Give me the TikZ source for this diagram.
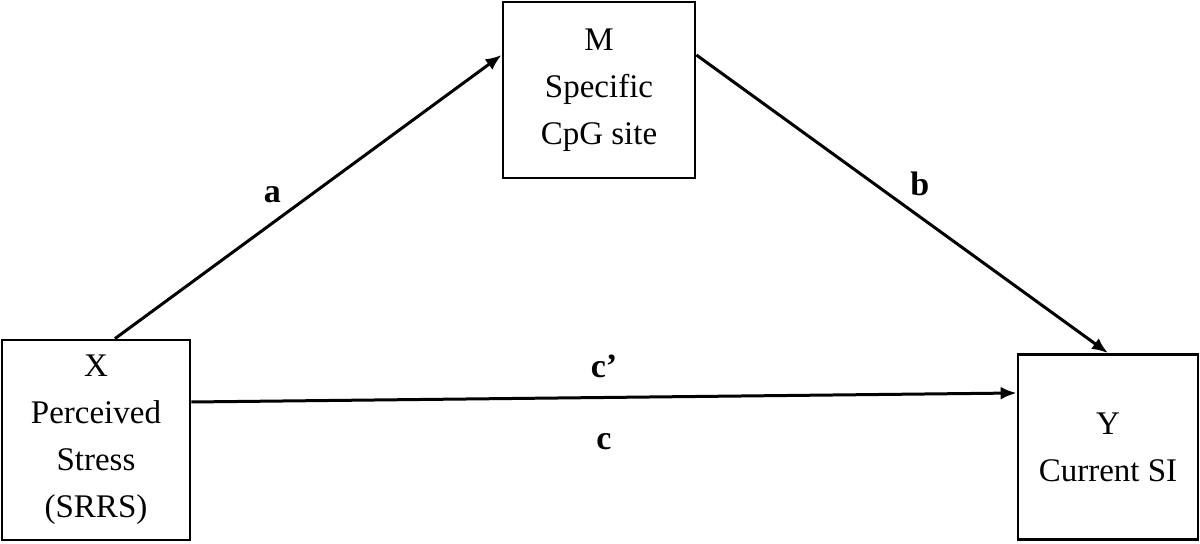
\documentclass[tikz,border=0pt]{standalone}
\usepackage{fontspec}
\setmainfont{Liberation Serif}
\usetikzlibrary{arrows.meta}

\begin{document}
\begin{tikzpicture}[x=0.5pt, y=-0.5pt,
    box/.style={draw, line width=1.4pt, align=center, inner sep=0pt,
        font=\fontsize{16.5}{23.5}\selectfont},
    arr/.style={line width=1.5pt, -{Latex[length=8pt, width=6.5pt]}},
    lbl/.style={font=\fontsize{17}{20}\selectfont\bfseries}]
        \useasboundingbox (0,0) rectangle (1200,544);
        \node[box, minimum width=94pt, minimum height=100pt] (X) at (96,440) {X\\Perceived\\Stress\\(SRRS)};
        \node[box, minimum width=96pt, minimum height=88pt] (M) at (599,90) {M\\Specific\\CpG site};
        \node[box, minimum width=90pt, minimum height=92.5pt] (Y) at (1108,447) {Y\\Current SI};

        \draw[arr] ([xshift=9.5pt]X.north) -- ([yshift=17.5pt]M.west) node[lbl, pos=0.45, above left]{a};
        \draw[arr] ([yshift=17.5pt]M.east) -- (Y.north) node[lbl, pos=0.5, above right]{b};
        \draw[arr] ([yshift=19pt]X.east) -- ([yshift=27pt]Y.west)
            node[lbl, pos=0.5, above=6pt]{c’} node[lbl, pos=0.5, below=14pt]{c};
    \end{tikzpicture}
\end{document}
